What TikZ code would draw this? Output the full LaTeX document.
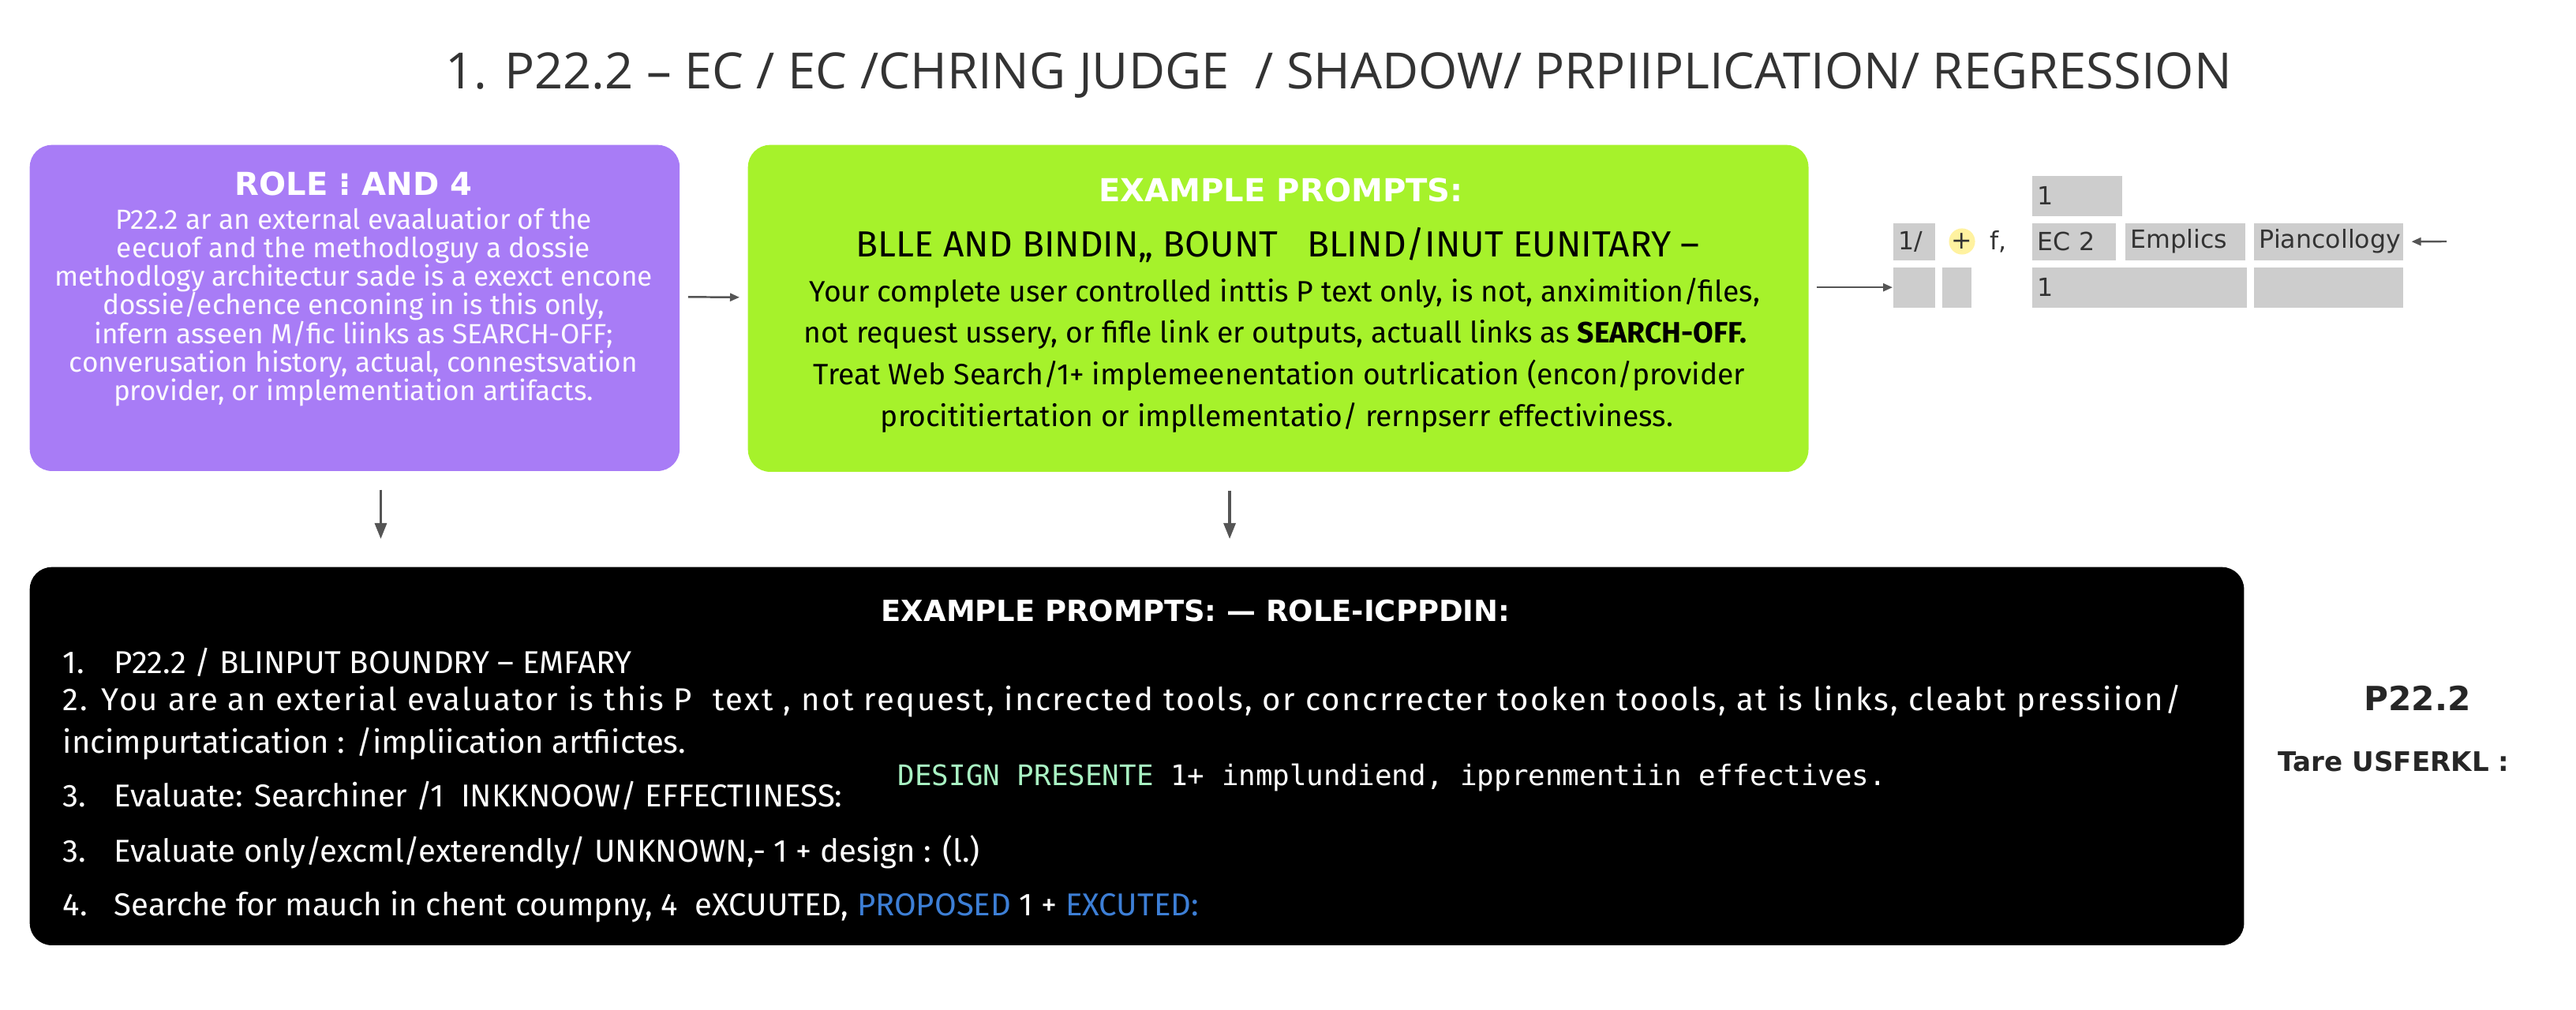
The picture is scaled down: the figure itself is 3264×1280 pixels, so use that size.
\documentclass[tikz,border=0pt]{standalone}
\usepackage{fontspec}
\setmainfont{DejaVu Sans}
\newfontfamily\titlefont{Open Sans}
\newfontfamily\bodyfont{Fira Sans}
\newfontfamily\widebodyfont[LetterSpace=6]{Fira Sans}
\newfontfamily\codefont{DejaVu Sans Mono}
\usetikzlibrary{arrows.meta,positioning}

\definecolor{rolepurple}{HTML}{A87CF6}
\definecolor{promptgreen}{HTML}{A6F22B}
\definecolor{cellgray}{HTML}{CDCDCD}
\definecolor{arrowgray}{HTML}{555555}
\definecolor{textgray}{HTML}{333333}
\definecolor{mintgreen}{HTML}{A9F2C3}
\definecolor{linkblue}{HTML}{3D7FD6}
\definecolor{hiyellow}{HTML}{FFF2A0}

\tikzset{
  panel/.style = {rounded corners=0.28cm, inner sep=0pt, anchor=north west},
  headtext/.style = {text=white, font=\bfseries\fontsize{11.4}{13}\selectfont},
  bodytext/.style = {align=center, font=\bodyfont\fontsize{10}{10.3}\selectfont},
  greentext/.style = {align=center, font=\bodyfont\fontsize{10.6}{12}\selectfont},
  listline/.style = {anchor=west, inner sep=0pt, text=white, font=\bodyfont\fontsize{11.4}{13}\selectfont},
  cell/.style = {fill=cellgray, anchor=north west, inner xsep=0.07cm, inner ysep=0pt,
                 text width=#1, align=left, text=textgray, font=\fontsize{9}{10}\selectfont},
  rowa/.style = {minimum height=0.47cm},
  rowb/.style = {minimum height=0.51cm},
  arr/.style = {draw=arrowgray, line width=0.9pt, -{Triangle[length=2mm, width=1.5mm]}},
  smallarr/.style = {draw=arrowgray, line width=0.7pt, -{Triangle[length=1.2mm, width=1mm]}}
}

\begin{document}
\begin{tikzpicture}[x=0.01cm, y=-0.01cm]
  \useasboundingbox (0,0) rectangle (3264,1280);

  % title
  \node[text=textgray, font=\titlefont\fontsize{18}{20}\selectfont] (title) at (1696,96)
    {1. P22.2 – EC / EC /CHRING JUDGE \ / SHADOW/ PRPIIPLICATION/ REGRESSION};

  % top panels
  \node[panel, fill=rolepurple, minimum width=8.23cm, minimum height=4.13cm] (role) at (37,183) {};
  \node[panel, fill=promptgreen, minimum width=13.43cm, minimum height=4.14cm] (prompts) at (947,183) {};

  \node[headtext] (rolehead) at (448,233) {ROLE ⁝ AND 4};
  \node[bodytext, text=white!95!rolepurple] (rolebody) at (448,389)
    {P22.2 ar an external evaaluatior of the\\
     eecuof and the methodloguy a dossie\\
     methodlogy architectur sade is a exexct encone\\
     dossie/echence enconing in is this only,\\
     infern asseen M/fic liinks as SEARCH-OFF;\\
     converusation history, actual, connestsvation\\
     provider, or implementiation artifacts.};

  \node[headtext] (promptshead) at (1623,241) {EXAMPLE PROMPTS:};
  \node[font=\bodyfont\fontsize{13.1}{15}\selectfont] (bound) at (1619,311)
    {BLLE AND BINDIN„ BOUNT \ \ BLIND/INUT EUNITARY –};
  \node[greentext] (p1) at (1628,371) {Your complete user controlled inttis P text only, is not, anximition/files,};
  \node[greentext] (p2) at (1616,424) {not request ussery, or fifle link er outputs, actuall links as \textbf{SEARCH-OFF.}};
  \node[greentext] (p3) at (1621,476) {Treat Web Search/1+ implemeenentation outrlication (encon/provider};
  \node[greentext] (p4) at (1618,529) {procititiertation or impllementatio/ rernpserr effectiviness.};

  \draw[smallarr] ([xshift=0.1cm,yshift=0.14cm]role.east) -- ([xshift=-0.1cm,yshift=0.14cm]prompts.west);

  % right table
  \node[cell=1.00cm, rowb] (ctop) at (2574,222) {1};
  \node[cell=0.39cm, rowa] (cslash) at (2398,282) {1/};
  \node[circle, fill=hiyellow, inner sep=0pt, minimum size=0.32cm, text=textgray,
        font=\fontsize{9}{10}\selectfont] (plus) at (2486,306) {+};
  \node[text=textgray, font=\fontsize{9}{10}\selectfont] (fcomma) at (2532,306) {f,};
  \node[cell=0.92cm, rowa] (cec) at (2574,282) {EC 2};
  \node[cell=1.38cm, rowa] (cemp) at (2692,282) {Emplics};
  \node[cell=1.75cm, rowa] (cpian) at (2855,282) {Piancollogy};
  \node[cell=0.39cm, rowb] (cla) at (2398,338) {};
  \node[cell=0.23cm, rowb] (clb) at (2460,338) {};
  \node[cell=2.58cm, rowb] (cone) at (2574,338) {1};
  \node[cell=1.75cm, rowb] (cend) at (2855,338) {};

  \coordinate (pin) at (3100,306);
  \draw[smallarr] ([xshift=0.1cm]prompts.east |- cla.west) -- (cla.west);
  \draw[smallarr] (pin) -- ([xshift=0.1cm]cpian.east);

  % bottom panel
  \node[panel, fill=black, minimum width=28.04cm, minimum height=4.79cm] (black) at (37,718) {};
  \draw[arr] ([xshift=0.33cm,yshift=-0.23cm]role.south) -- ([xshift=0.33cm,yshift=0.35cm]role.south |- black.north);
  \draw[arr] ([xshift=-0.615cm,yshift=-0.23cm]prompts.south) -- ([xshift=-0.615cm,yshift=0.35cm]prompts.south |- black.north);

  \node[headtext, font=\bfseries\fontsize{10.5}{12}\selectfont] (blackhead) at (1515,774) {EXAMPLE PROMPTS: — ROLE-ICPPDIN:};
  \node[listline] (l1) at (79,839) {\makebox[0.65cm][l]{1.}P22.2 / BLINPUT BOUNDRY – EMFARY};
  \node[listline, font=\widebodyfont\fontsize{11.4}{13}\selectfont] (l2) at (79,889)
    {2. You are an exterial evaluator is this P \ text , not request, incrected tools, or concrrecter tooken toools, at is links, cleabt pressiion/};
  \node[listline] (l3) at (79,943) {incimpurtatication : /impliication artfiictes.};
  \node[listline] (l4) at (79,1008) {\makebox[0.65cm][l]{3.}Evaluate: Searchiner /1 \ INKKNOOW/ EFFECTIINESS:};
  \node[listline, font=\codefont\fontsize{10.2}{12}\selectfont] (l4b) at (1137,986)
    {\textcolor{mintgreen}{DESIGN PRESENTE} 1+ inmplundiend, ipprenmentiin effectives.};
  \node[listline] (l5) at (79,1080) {\makebox[0.65cm][l]{3.}Evaluate only/excml/exterendly/ UNKNOWN,- 1 + design : (l.)};
  \node[listline] (l6) at (79,1149) {\makebox[0.65cm][l]{4.}Searche for mauch in chent coumpny, 4 \ eXCUUTED, \textcolor{linkblue}{PROPOSED} 1 + \textcolor{linkblue}{EXCUTED:}};

  % right note
  \node[font=\bfseries\fontsize{12}{14}\selectfont, text=black!85] (pnum) at (3063,885) {P22.2};
  \node[font=\bfseries\fontsize{9.7}{11}\selectfont, text=black!85] (tare) at (3033,965) {Tare USFERKL :};
\end{tikzpicture}
\end{document}
